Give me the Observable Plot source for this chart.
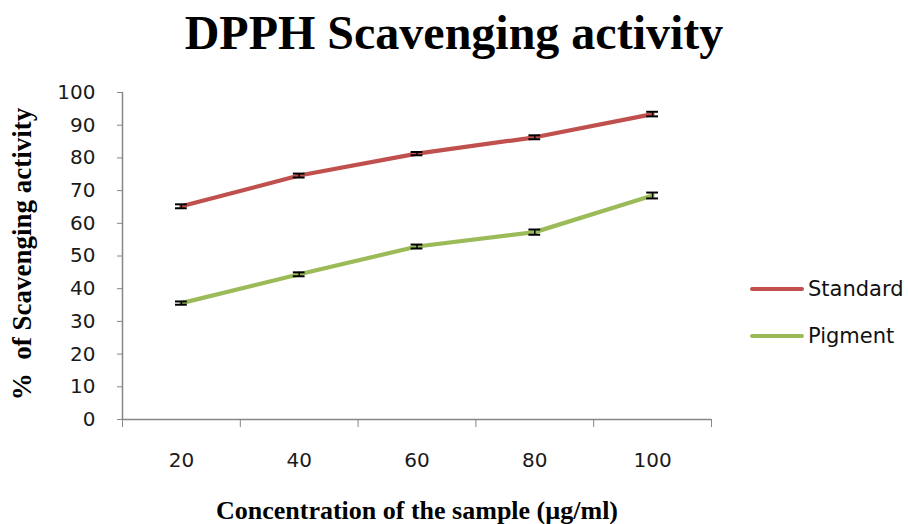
<!DOCTYPE html>
<html><head><meta charset="utf-8">
<script src="https://cdn.jsdelivr.net/npm/d3@7"></script>
<script src="https://cdn.jsdelivr.net/npm/@observablehq/plot@0.6"></script>
<style>
body{margin:0;background:#fff;}
#wrap{position:relative;width:908px;height:524px;overflow:hidden;}
#title{position:absolute;left:0;width:908px;top:6px;text-align:center;font-family:"Liberation Serif",serif;font-weight:bold;font-size:48px;line-height:53px;color:#000;}
#ylab{position:absolute;left:22px;top:254px;transform:translate(-50%,-50%) rotate(-90deg);white-space:nowrap;font-family:"Liberation Serif",serif;font-weight:bold;font-size:27px;line-height:30px;}
#xlab{position:absolute;left:417px;top:496px;transform:translateX(-50%);white-space:nowrap;font-family:"Liberation Serif",serif;font-weight:bold;font-size:26px;line-height:29px;}
#legend{position:absolute;left:750px;top:265px;font-family:"DejaVu Sans",sans-serif;font-size:21px;color:#111;}
.li{display:flex;align-items:center;height:47px;}
.sw{width:54px;height:4px;border-radius:2px;margin-right:4px;}
#chart{position:absolute;left:0;top:0;}
</style></head>
<body><div id="wrap">
<div id="chart"></div>
<div id="title">DPPH Scavenging activity</div>
<div id="ylab">%&nbsp; of Scavenging activity</div>
<div id="xlab">Concentration of the sample (µg/ml)</div>
<div id="legend"></div>
</div>
<script>
const concentrations = [20, 40, 60, 80, 100];
const standard = [65.2, 74.6, 81.3, 86.3, 93.4];
const pigment = [35.6, 44.4, 52.9, 57.3, 68.5];
const standardErr = [0.6, 0.6, 0.5, 0.6, 0.7];
const pigmentErr = [0.5, 0.6, 0.6, 0.8, 0.9];
const seriesNames = ["Standard", "Pigment"];
const seriesColors = ["#C0504D", "#9BBB59"];
const yTicks = [0,10,20,30,40,50,60,70,80,90,100];

const data = [];
concentrations.forEach((c,i)=>{
  data.push({series:"Standard", conc:c, v:standard[i], e:standardErr[i]});
  data.push({series:"Pigment", conc:c, v:pigment[i], e:pigmentErr[i]});
});
const step = concentrations[1]-concentrations[0];
const bounds = [concentrations[0]-step/2, ...concentrations.map(c=>c+step/2)];

const plot = Plot.plot({
  width: 908, height: 524,
  marginLeft: 122, marginRight: 197, marginTop: 92, marginBottom: 105,
  style: {fontFamily: "DejaVu Sans, sans-serif", fontSize: "20px", color: "#000", background: "transparent"},
  x: {domain: [bounds[0], bounds[bounds.length-1]]},
  y: {domain: [0, 100]},
  color: {domain: seriesNames, range: seriesColors},
  marks: [
    Plot.ruleY([0], {stroke: "#868686", strokeWidth: 1.5}),
    Plot.ruleX([bounds[0]], {stroke: "#868686", strokeWidth: 1.5}),
    Plot.axisY({ticks: yTicks, tickSize: 5, tickPadding: 22, stroke: "#868686", label: null, fill: "#1a1a1a"}),
    Plot.axisX({ticks: bounds, tickSize: 8, tickFormat: () => "", stroke: "#868686", label: null}),
    Plot.axisX({ticks: concentrations, tickSize: 0, tickPadding: 33, tickFormat: d => String(d), label: null, fill: "#1a1a1a"}),
    Plot.line(data, {x: "conc", y: "v", z: "series", stroke: "series", strokeWidth: 4.2}),
    Plot.ruleX(data, {x: "conc", y1: d => d.v - d.e, y2: d => d.v + d.e, stroke: "#000", strokeWidth: 1.5}),
    Plot.ruleY(data, {y: d => d.v - d.e, x1: d => d.conc - 1, x2: d => d.conc + 1, stroke: "#000", strokeWidth: 2}),
    Plot.ruleY(data, {y: d => d.v + d.e, x1: d => d.conc - 1, x2: d => d.conc + 1, stroke: "#000", strokeWidth: 2})
  ]
});
document.getElementById("chart").appendChild(plot);

const leg = document.getElementById("legend");
seriesNames.forEach((n,i)=>{
  const row = document.createElement("div"); row.className="li";
  const sw = document.createElement("div"); sw.className="sw"; sw.style.background=seriesColors[i];
  const t = document.createElement("span"); t.textContent=n;
  row.appendChild(sw); row.appendChild(t); leg.appendChild(row);
});
</script>
</body></html>
